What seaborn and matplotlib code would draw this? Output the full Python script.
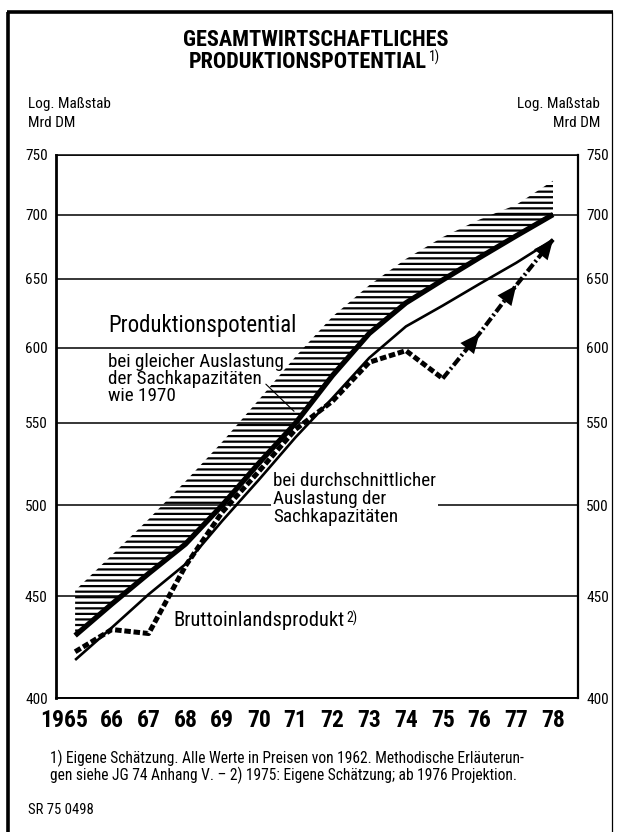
"""Gesamtwirtschaftliches Produktionspotential 1965-1978, logarithmic scale."""

import matplotlib

matplotlib.use("Agg")
import matplotlib.pyplot as plt
import seaborn as sns
from matplotlib import font_manager
from matplotlib.lines import Line2D
from matplotlib.ticker import FixedFormatter, FixedLocator, NullLocator
from matplotlib.transforms import ScaledTranslation

# --- data (Mrd DM, prices of 1962) -------------------------------------------
YEARS = list(range(1965, 1979))
YEAR_LABELS = ["1965", "66", "67", "68", "69", "70", "71", "72", "73", "74",
               "75", "76", "77", "78"]
# potential at the same utilisation as 1970 (thick line)
POTENTIAL_1970 = [430, 446, 462, 478, 500, 525, 550, 581, 610, 632, 649, 666, 683, 700]
# upper edge of the hatched band
POTENTIAL_UPPER = [453, 472, 492, 514, 538, 565, 594, 622, 645, 665, 682, 696, 708, 728]
# potential at average utilisation (thin line)
POTENTIAL_AVERAGE = [418, 434, 451, 467, 491, 515, 541, 566, 593, 615, 630, 646, 662, 680]
# gross domestic product, 1975 estimate, from 1976 projection
GDP = [422, 433, 431, 466, 496, 520, 546, 564, 590, 598, 579, 610, 645, 680]
PROJECTION_START = 1975

Y_TICKS = [400, 450, 500, 550, 600, 650, 700, 750]
Y_LABELS = ["400", "450", "500", "550", "600", "650", "700", "750"]

TITLE_1 = "GESAMTWIRTSCHAFTLICHES"
TITLE_2 = "PRODUKTIONSPOTENTIAL"
FOOTNOTE_1 = "1) Eigene Schätzung. Alle Werte in Preisen von 1962. Methodische Erläuterun-"
FOOTNOTE_2 = "gen siehe JG 74 Anhang V. – 2) 1975: Eigene Schätzung; ab 1976 Projektion."

W, H = 618, 832
FONT_PREFS = ["Liberation Sans Narrow", "Roboto Condensed", "DejaVu Sans Condensed",
              "Roboto", "Liberation Sans", "DejaVu Sans"]


def fx(px):
    return px / W


def fy(py):
    return 1 - py / H


def _pick_font():
    names = {f.name for f in font_manager.fontManager.ttflist}
    for name in FONT_PREFS:
        if name in names:
            return name
    return "DejaVu Sans"


def _superscript(fig, artist, text, size):
    fig.canvas.draw()
    bbox = artist.get_window_extent()
    fig.text((bbox.x1 + 2) / fig.bbox.width, (bbox.y1 + 1) / fig.bbox.height,
             text, ha="left", va="top", fontsize=size)


def _draw_series(ax):
    ax.fill_between(YEARS, POTENTIAL_1970, POTENTIAL_UPPER, facecolor="none",
                    edgecolor="black", hatch="---", linewidth=0, zorder=2)
    sns.lineplot(x=YEARS, y=POTENTIAL_1970, color="black", linewidth=3.8,
                 solid_capstyle="butt", ax=ax, zorder=4)
    sns.lineplot(x=YEARS, y=POTENTIAL_AVERAGE, color="black", linewidth=1.9,
                 solid_capstyle="butt", ax=ax, zorder=4)

    cut = YEARS.index(PROJECTION_START)
    sns.lineplot(x=YEARS[:cut + 1], y=GDP[:cut + 1], color="black", linewidth=3.6,
                 linestyle=(0, (1.3, 0.55)), ax=ax, zorder=5)
    sns.lineplot(x=YEARS[cut:], y=GDP[cut:], color="black", linewidth=3.0,
                 linestyle=(0, (2.2, 0.7, 0.5, 0.7)), ax=ax, zorder=5)
    # arrow heads on the projected points
    for i in range(cut + 1, len(YEARS)):
        x0, x1 = YEARS[i - 1], YEARS[i]
        y0, y1 = GDP[i - 1], GDP[i]
        back = 0.3
        ax.annotate("", xy=(x1, y1),
                    xytext=(x1 - back * (x1 - x0), y1 * (y0 / y1) ** back),
                    arrowprops=dict(arrowstyle="-|>,head_length=1.0,head_width=0.45",
                                    color="black", lw=0, mutation_scale=14,
                                    shrinkA=0, shrinkB=0), zorder=6)


def _style_axes(ax, fig):
    ax.set_yscale("log")
    ax.set_ylim(400, 750)
    ax.set_xlim(1964.48, 1978.68)
    ax.yaxis.set_major_locator(FixedLocator(Y_TICKS))
    ax.yaxis.set_major_formatter(FixedFormatter(Y_LABELS))
    ax.yaxis.set_minor_locator(NullLocator())
    ax.tick_params(axis="y", which="both", length=0, pad=6, labelsize=11,
                   labelright=True, right=False)
    ax.yaxis.grid(True, color="black", linewidth=1.1, zorder=1)
    ax.xaxis.grid(False)

    ax.set_xticks(YEARS, YEAR_LABELS)
    ax.set_xticks([y + 0.5 for y in YEARS[:-1]], minor=True)
    ax.tick_params(axis="x", which="major", length=0, pad=8, labelsize=17)
    ax.tick_params(axis="x", which="minor", length=7, width=1.5, direction="out",
                   color="black")
    for label in ax.get_xticklabels():
        label.set_fontweight("bold")
    first = ax.xaxis.get_major_ticks()[0].label1
    first.set_transform(first.get_transform()
                        + ScaledTranslation(-8 / 72, 0, fig.dpi_scale_trans))

    ax.set(xlabel="", ylabel="")
    for side, lw in {"left": 2.0, "right": 1.6, "top": 1.1, "bottom": 1.4}.items():
        ax.spines[side].set_visible(True)
        ax.spines[side].set_linewidth(lw)
        ax.spines[side].set_color("black")


def _annotate(ax, fig):
    ax.text(0.0996, 0.674, "Produktionspotential", transform=ax.transAxes,
            fontsize=16.5, va="baseline", ha="left", zorder=7)
    ax.text(0.0996, 0.636, "bei gleicher Auslastung\nder Sachkapazitäten\nwie 1970",
            transform=ax.transAxes, fontsize=13.8, va="top", ha="left",
            linespacing=0.95, zorder=7)
    ax.plot([0.402, 0.456], [0.578, 0.528], transform=ax.transAxes,
            color="black", linewidth=0.8, zorder=7)
    ax.text(0.4157, 0.416, "bei durchschnittlicher\nAuslastung der\nSachkapazitäten",
            transform=ax.transAxes, fontsize=13.8, va="top", ha="left",
            linespacing=1.0, zorder=7,
            bbox=dict(facecolor="white", edgecolor="none", pad=1.5))
    gdp = ax.text(0.224, 0.132, "Bruttoinlandsprodukt", transform=ax.transAxes,
                  fontsize=14.8, va="baseline", ha="left", zorder=7)
    _superscript(fig, gdp, "2)", 10)


def _frame_and_texts(fig):
    kw = dict(transform=fig.transFigure, color="black", solid_capstyle="butt")
    fig.add_artist(Line2D([fx(8), fx(8)], [fy(12), fy(832)], linewidth=2.6, **kw))
    fig.add_artist(Line2D([fx(7), fx(613)], [fy(12), fy(12)], linewidth=2.6, **kw))
    fig.add_artist(Line2D([fx(612), fx(612)], [fy(12), fy(832)], linewidth=0.9, **kw))

    fig.text(fx(316), fy(40), TITLE_1, ha="center", va="center",
             fontsize=16, fontweight="bold")
    t2 = fig.text(fx(308), fy(62), TITLE_2, ha="center", va="center",
                  fontsize=16, fontweight="bold")
    _superscript(fig, t2, "1)", 10)

    for x, ha in ((28, "left"), (600, "right")):
        fig.text(fx(x), fy(104), "Log. Maßstab", ha=ha, va="center", fontsize=11)
        fig.text(fx(x), fy(123), "Mrd DM", ha=ha, va="center", fontsize=11)

    fig.text(fx(50), fy(758), FOOTNOTE_1, ha="left", va="center", fontsize=11.2)
    fig.text(fx(50), fy(775), FOOTNOTE_2, ha="left", va="center", fontsize=11.2)
    fig.text(fx(28), fy(810), "SR 75 0498", ha="left", va="center", fontsize=10.5)


def main():
    sns.set_theme(style="white", rc={"axes.edgecolor": "black", "text.color": "black",
                                     "xtick.color": "black", "ytick.color": "black",
                                     "axes.labelcolor": "black"})
    plt.rcParams["font.family"] = [_pick_font(), "DejaVu Sans"]
    plt.rcParams["hatch.linewidth"] = 1.6
    plt.rcParams["hatch.color"] = "black"

    fig = plt.figure(figsize=(W / 100, H / 100), dpi=100)
    ax = fig.add_axes([fx(56), fy(698), (578 - 56) / W, (698 - 155) / H])
    _draw_series(ax)
    _style_axes(ax, fig)
    _annotate(ax, fig)
    _frame_and_texts(fig)
    fig.savefig("out.png", dpi=100)
    plt.close(fig)


if __name__ == "__main__":
    main()
